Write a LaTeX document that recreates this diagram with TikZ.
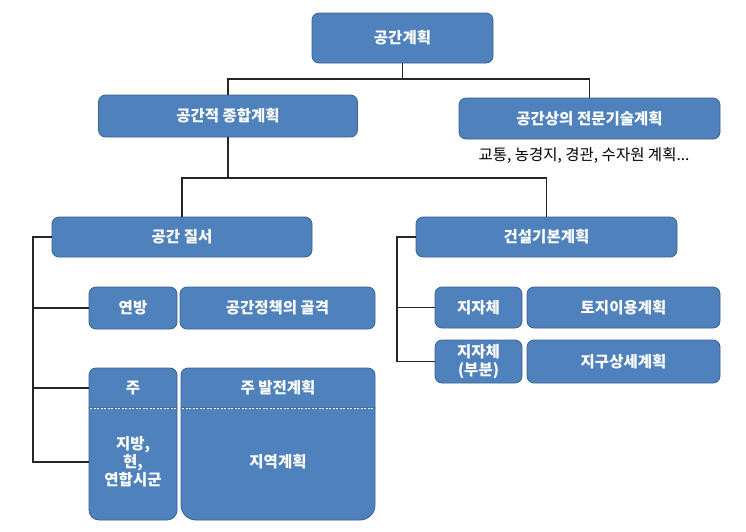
\documentclass[tikz,border=0pt]{standalone}
\usepackage{fontspec}
\setmainfont{Noto Sans CJK KR}
\usetikzlibrary{positioning}

\definecolor{boxblue}{HTML}{4F81BD}
\definecolor{boxedge}{HTML}{3A6190}

\begin{document}
\begin{tikzpicture}[x=1pt, y=-1pt,
  every node/.style={font=\fontsize{15.5}{18}\selectfont},
  box/.style={draw=boxedge, line width=0.8pt, fill=boxblue, rounded corners=7pt,
    text=white, font=\fontsize{15.5}{18.5}\selectfont\bfseries, inner sep=0pt, align=center},
  boxtext/.style={text=white, font=\fontsize{15.5}{18}\selectfont\bfseries, inner sep=0pt, align=center},
  stack/.style={draw=boxedge, line width=0.8pt, fill=boxblue},
  link/.style={draw=black!85, line width=1.3pt}]
  \useasboundingbox (0,0) rectangle (746,531);

  % top level
  \node[box, minimum width=181pt, minimum height=50pt] (plan) at (402.5,38) {공간계획};
  \node[box, minimum width=259pt, minimum height=42pt] (comp) at (228,116) {공간적 종합계획};
  \node[box, minimum width=261pt, minimum height=41pt] (tech) at (589.5,118.5) {공간상의 전문기술계획};
  \node (note) at (584,156) {교통, 농경지, 경관, 수자원 계획...};

  % second level
  \node[box, minimum width=260pt, minimum height=40pt] (order) at (182,237) {공간 질서};
  \node[box, minimum width=261pt, minimum height=40pt] (build) at (546.5,237) {건설기본계획};

  % left side
  \node[box, minimum width=88pt, minimum height=42pt] (fed) at (133,308) {연방};
  \node[box, minimum width=195pt, minimum height=42pt] (fedplan) at (277.5,308) {공간정책의 골격};

  \filldraw[stack] (89,408) -- (89,375) arc[start angle=180, end angle=270, radius=7]
    -- (170,368) arc[start angle=270, end angle=360, radius=7] -- (177,408) -- cycle;
  \filldraw[stack] (89,408) -- (89,510) arc[start angle=180, end angle=90, radius=10]
    -- (167,520) arc[start angle=90, end angle=0, radius=10] -- (177,408) -- cycle;
  \filldraw[stack] (181,408) -- (181,375) arc[start angle=180, end angle=270, radius=7]
    -- (368,368) arc[start angle=270, end angle=360, radius=7] -- (375,408) -- cycle;
  \filldraw[stack] (181,408) -- (181,505) arc[start angle=180, end angle=90, radius=15]
    -- (360,520) arc[start angle=90, end angle=0, radius=15] -- (375,408) -- cycle;
  \draw[white, dash pattern=on 2pt off 1.5pt, line width=0.8pt] (90,408) -- (176,408);
  \draw[white, dash pattern=on 2pt off 1.5pt, line width=0.8pt] (182,408) -- (374,408);

  \node[boxtext, minimum width=88pt, minimum height=40pt] (state) at (133,388) {주};
  \node[boxtext, minimum width=194pt, minimum height=40pt] (stateplan) at (278,388) {주 발전계획};
  \node[boxtext, minimum width=88pt, minimum height=112pt] (region) at (133,462) {지방,\\현,\\연합시군};
  \node[boxtext, minimum width=194pt, minimum height=112pt] (regplan) at (278,462) {지역계획};

  % right side
  \node[box, minimum width=87pt, minimum height=41pt] (muni) at (478.5,307.5) {지자체};
  \node[box, minimum width=193pt, minimum height=41pt] (landuse) at (623.5,307.5) {토지이용계획};
  \node[box, minimum width=87pt, minimum height=43pt] (munipart) at (478.5,361.5) {지자체\\(부분)};
  \node[box, minimum width=193pt, minimum height=43pt] (detail) at (623.5,361.5) {지구상세계획};

  % connectors
  \coordinate (top) at (402.5,79);
  \coordinate (mid) at (228,178);
  \coordinate (lbus) at (33,0);
  \coordinate (rbus) at (397,0);
  \draw[link] (plan) -- (top);
  \draw[link] (comp.north) |- (top) -| (tech.north);
  \draw[link] (comp) -- (mid);
  \draw[link] (order.north) |- (mid) -| (build.north);
  \draw[link] (order.west) -| (lbus |- region.west) -- (region.west);
  \draw[link] (fed.west) -- (fed.west -| lbus);
  \draw[link] (state.west) -- (state.west -| lbus);
  \draw[link] (build.west) -| (rbus |- munipart.west) -- (munipart.west);
  \draw[link] (muni.west) -- (muni.west -| rbus);
\end{tikzpicture}
\end{document}
